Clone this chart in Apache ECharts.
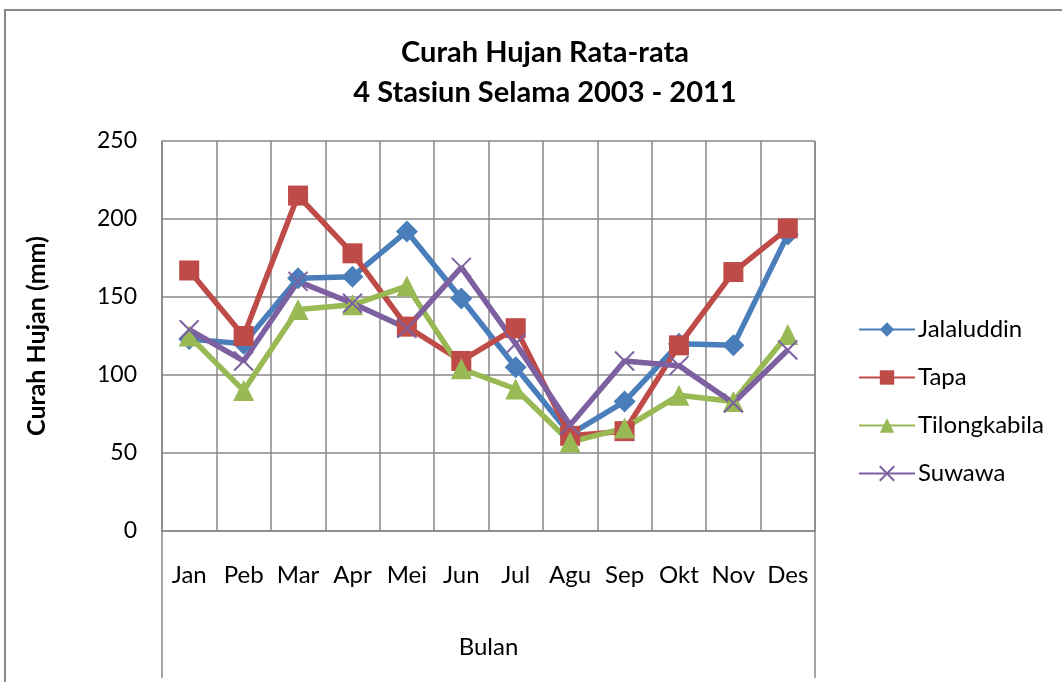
<!DOCTYPE html>
<html>
<head>
<meta charset="utf-8">
<script src="https://cdn.jsdelivr.net/npm/echarts@6/dist/echarts.min.js"></script>
<style>
  html, body { margin: 0; padding: 0; background: #fff; }
  #chart { width: 1062px; height: 682px; }
</style>
</head>
<body>
<div id="chart"></div>
<script>
// ==============================================================
// Curah hujan rata-rata, 4 stasiun (2003 - 2011)
// ==============================================================
var months = ['Jan', 'Peb', 'Mar', 'Apr', 'Mei', 'Jun', 'Jul', 'Agu', 'Sep', 'Okt', 'Nov', 'Des'];
var jalaluddin   = [123, 120, 162, 163, 192, 149, 105, 62, 83, 120, 119, 190];
var tapa         = [167, 125, 215, 178, 131, 109, 130, 61, 64, 119, 166, 194];
var tilongkabila = [125, 90, 142, 145, 157, 104, 91, 57, 66, 87, 83, 126];
var suwawa       = [129, 109, 160, 146, 130, 169, 120, 68, 109, 106, 82, 116];
var yTicks = [0, 50, 100, 150, 200, 250];

var font = 'Lato, "Open Sans", sans-serif';
var gridColor = '#878787';
var plotLeft = 162, plotRight = 815, plotTop = 141, plotBottom = 531;

var chart = echarts.init(document.getElementById('chart'));

function serie(name, data, color, symbol, size, extra) {
    var s = {
        name: name,
        type: 'line',
        data: data,
        symbol: symbol,
        symbolSize: size,
        showAllSymbol: true,
        lineStyle: { color: color, width: 5.5 },
        itemStyle: { color: color },
        emphasis: { disabled: true },
        animation: false
    };
    if (extra) s.itemStyle = extra;
    return s;
}

var option = {
    backgroundColor: '#fff',
    title: {
        text: 'Curah Hujan Rata-rata\n4 Stasiun Selama 2003 - 2011',
        left: 540,
        textAlign: 'center',
        top: 28,
        textStyle: { fontFamily: font, fontSize: 29, fontWeight: 'bold', color: '#000', lineHeight: 40 }
    },
    legend: {
        orient: 'vertical',
        left: 853,
        top: 312,
        itemWidth: 56,
        itemHeight: 18,
        itemGap: 23,
        textStyle: { fontFamily: font, fontSize: 24, lineHeight: 25, color: '#000', padding: [0, 0, 0, -2] },
        data: ['Jalaluddin', 'Tapa', 'Tilongkabila', 'Suwawa']
    },
    grid: { left: plotLeft, right: 1062 - plotRight, top: plotTop, bottom: 682 - plotBottom },
    xAxis: {
        type: 'category',
        data: months,
        boundaryGap: true,
        name: 'Bulan',
        nameLocation: 'middle',
        nameGap: 104,
        nameTextStyle: { fontFamily: font, fontSize: 24, color: '#000' },
        axisLine: { lineStyle: { color: gridColor, width: 1.5 } },
        axisTick: { show: false },
        axisLabel: { interval: 0, margin: 32, fontFamily: font, fontSize: 24, color: '#000' },
        splitLine: { show: true, interval: 0, lineStyle: { color: gridColor, width: 1.5 } }
    },
    yAxis: {
        type: 'value',
        min: yTicks[0],
        max: yTicks[yTicks.length - 1],
        interval: 50,
        name: 'Curah Hujan (mm)',
        nameLocation: 'middle',
        nameGap: 113,
        nameTextStyle: { fontFamily: font, fontSize: 25, fontWeight: 'bold', color: '#000' },
        axisLine: { show: true, lineStyle: { color: gridColor, width: 1.5 } },
        axisTick: { show: false },
        axisLabel: { margin: 25, fontFamily: font, fontSize: 23, color: '#000' },
        splitLine: { show: true, lineStyle: { color: gridColor, width: 1.5 } }
    },
    graphic: [
        { type: 'rect', shape: { x: 5, y: 10, width: 1200, height: 800 }, style: { fill: null, stroke: '#888', lineWidth: 2 }, silent: true },
        { type: 'line', shape: { x1: plotLeft, y1: plotBottom, x2: plotLeft, y2: 678 }, style: { stroke: gridColor, lineWidth: 1.5 }, silent: true },
        { type: 'line', shape: { x1: plotRight, y1: plotTop, x2: plotRight, y2: 678 }, style: { stroke: gridColor, lineWidth: 1.5 }, silent: true }
    ],
    series: [
        serie('Jalaluddin', jalaluddin, '#4a7ebb', 'diamond', 22),
        serie('Tapa', tapa, '#be4b48', 'rect', 20),
        serie('Tilongkabila', tilongkabila, '#98b954', 'triangle', 21),
        serie('Suwawa', suwawa, '#7d60a0', 'path://M0,0L10,10M10,0L0,10', 19,
            { color: '#7d60a0', borderColor: '#7d60a0', borderWidth: 2 })
    ]
};

chart.setOption(option, true);
</script>
</body>
</html>
